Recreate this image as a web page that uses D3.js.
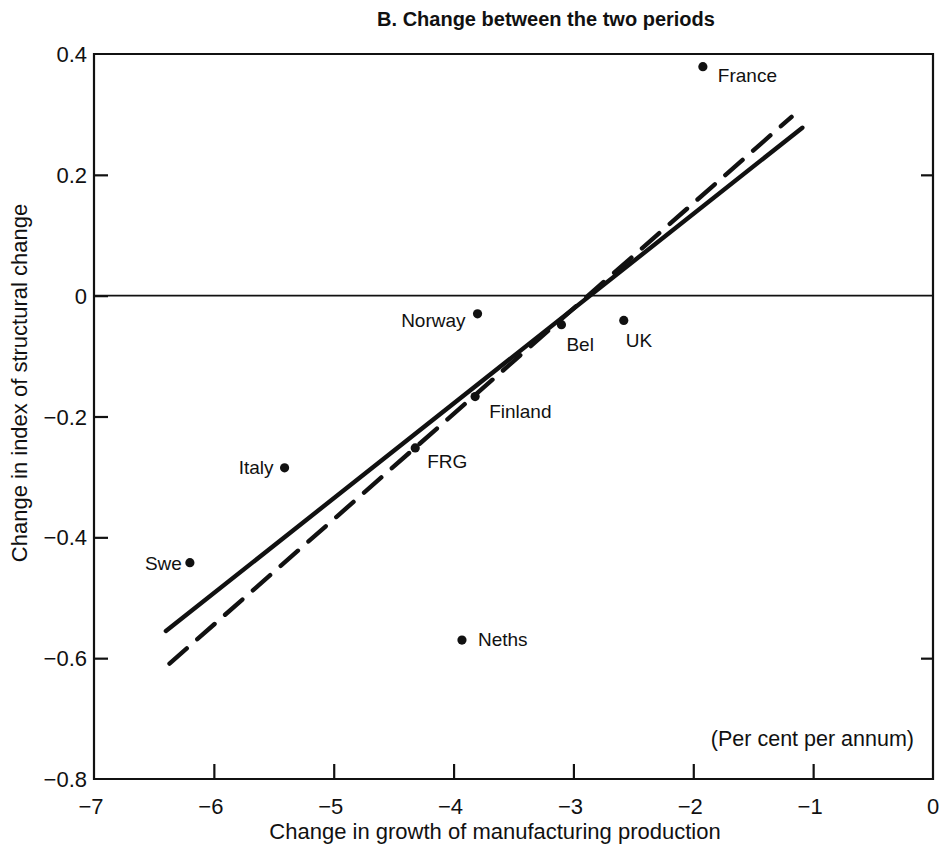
<!DOCTYPE html>
<html>
<head>
<meta charset="utf-8">
<script src="https://cdn.jsdelivr.net/npm/d3@7"></script>
<style>
  body { margin: 0; background: #fff; }
  svg text { font-family: "Liberation Sans", Arial, sans-serif; fill: #111; }
</style>
</head>
<body>
<div id="chart"></div>
<script>
// country points: [x change in growth, y change in structural index]
const countries = ['France', 'Norway', 'Bel', 'UK', 'Finland', 'FRG', 'Italy', 'Swe', 'Neths'];
const xValues = [-1.92, -3.80, -3.10, -2.58, -3.82, -4.32, -5.41, -6.20, -3.93];
const yValues = [0.379, -0.030, -0.048, -0.041, -0.167, -0.252, -0.285, -0.442, -0.570];

// fitted lines (end points)
const solidFit = [[-6.40, -0.555], [-1.09, 0.278]];
const dashedFit = [[-6.37, -0.609], [-1.18, 0.296]];

const xTicks = [-7, -6, -5, -4, -3, -2, -1, 0];
const yTicks = [0.4, 0.2, 0, -0.2, -0.4, -0.6, -0.8];
const rightTicks = [0.2, -0.6];

const width = 940, height = 849;
const plotLeft = 94, plotRight = 933, plotTop = 54, plotBottom = 779;

const svg = d3.select('#chart')
    .append('svg')
    .attr('width', width)
    .attr('height', height);

const x = d3.scaleLinear().domain([-7, 0]).range([plotLeft, plotRight]);
const y = d3.scaleLinear().domain([-0.8, 0.4]).range([plotBottom, plotTop]);

const fmt = v => (v < 0 ? '\u2212' : '') + Math.abs(v);
const fmtY = v => v === 0 ? '0' : (v < 0 ? '\u2212' : '') + Math.abs(v).toFixed(1);

// title
svg.append('text')
    .attr('x', 546)
    .attr('y', 26)
    .attr('text-anchor', 'middle')
    .style('font-weight', 'bold')
    .style('font-size', '20px')
    .text('B. Change between the two periods');

// frame: left axis, bottom axis, top and right border
svg.append('path')
    .attr('d', `M${x(-7)},${y(0.4)}H${x(0)}V${y(-0.8)}H${x(-7)}Z`)
    .attr('stroke', '#111')
    .attr('stroke-width', 2.2)
    .attr('fill', 'none');

// left ticks (inward)
svg.append('g')
    .attr('transform', `translate(${plotLeft},0)`)
    .call(d3.axisRight(y).tickValues(yTicks.filter(v => v !== 0.4 && v !== -0.8))
        .tickSize(14).tickFormat(''))
    .call(g => g.select('.domain').remove())
    .call(g => g.selectAll('line').attr('stroke', '#111').attr('stroke-width', 2.2));

// left tick labels
svg.append('g')
    .selectAll('text')
    .data(yTicks)
    .join('text')
    .attr('x', plotLeft - 7)
    .attr('y', d => y(d) + 8)
    .attr('text-anchor', 'end')
    .style('font-size', '22px')
    .text(fmtY);

// right ticks (inward)
svg.append('g')
    .attr('transform', `translate(${plotRight},0)`)
    .call(d3.axisLeft(y).tickValues(rightTicks).tickSize(12).tickFormat(''))
    .call(g => g.select('.domain').remove())
    .call(g => g.selectAll('line').attr('stroke', '#111').attr('stroke-width', 2.2));

// bottom ticks (upward)
svg.append('g')
    .attr('transform', `translate(0,${plotBottom})`)
    .call(d3.axisTop(x).tickValues(xTicks.filter(v => v !== -7 && v !== 0))
        .tickSize(15).tickFormat(''))
    .call(g => g.select('.domain').remove())
    .call(g => g.selectAll('line').attr('stroke', '#111').attr('stroke-width', 2.2));

// bottom tick labels
svg.append('g')
    .selectAll('text')
    .data(xTicks)
    .join('text')
    .attr('x', d => x(d) + (d < 0 ? -3 : 0))
    .attr('y', 814)
    .attr('text-anchor', 'middle')
    .style('font-size', '22px')
    .text(fmt);

// zero line
svg.append('line')
    .attr('x1', x(-7)).attr('x2', x(0))
    .attr('y1', y(0)).attr('y2', y(0))
    .attr('stroke', '#111')
    .attr('stroke-width', 1.6);

// fitted lines
const line = d3.line().x(d => x(d[0])).y(d => y(d[1]));

svg.append('path')
    .datum(solidFit)
    .attr('d', line)
    .attr('fill', 'none')
    .attr('stroke', '#111')
    .attr('stroke-width', 4.4)
    .attr('stroke-linecap', 'round');

svg.append('path')
    .datum(dashedFit)
    .attr('d', line)
    .attr('fill', 'none')
    .attr('stroke', '#111')
    .attr('stroke-width', 4.4)
    .attr('stroke-linecap', 'round')
    .attr('stroke-dasharray', '23,14');

// points
const pts = countries.map((c, i) => ({ name: c, x: xValues[i], y: yValues[i] }));

svg.append('g')
    .selectAll('circle')
    .data(pts)
    .join('circle')
    .attr('cx', d => x(d.x))
    .attr('cy', d => y(d.y))
    .attr('r', 4.6)
    .attr('fill', '#111');

// label placement relative to point
const labelPos = {
    France: [15, 15, 'start'],
    Norway: [-12, 13, 'end'],
    Bel: [5, 26, 'start'],
    UK: [2, 27, 'start'],
    Finland: [14, 21, 'start'],
    FRG: [12, 20, 'start'],
    Italy: [-11, 6, 'end'],
    Swe: [-8, 7, 'end'],
    Neths: [16, 6, 'start']
};

svg.append('g')
    .selectAll('text')
    .data(pts)
    .join('text')
    .attr('x', d => x(d.x) + labelPos[d.name][0])
    .attr('y', d => y(d.y) + labelPos[d.name][1])
    .attr('text-anchor', d => labelPos[d.name][2])
    .style('font-size', '19px')
    .text(d => d.name);

// unit note
svg.append('text')
    .attr('x', 914)
    .attr('y', 746)
    .attr('text-anchor', 'end')
    .style('font-size', '21.5px')
    .text('(Per cent per annum)');

// axis titles
svg.append('text')
    .attr('x', 495)
    .attr('y', 839)
    .attr('text-anchor', 'middle')
    .style('font-size', '22px')
    .text('Change in growth of manufacturing production');

svg.append('text')
    .attr('transform', 'translate(27,383) rotate(-90)')
    .attr('text-anchor', 'middle')
    .style('font-size', '22px')
    .text('Change in index of structural change');
</script>
</body>
</html>
